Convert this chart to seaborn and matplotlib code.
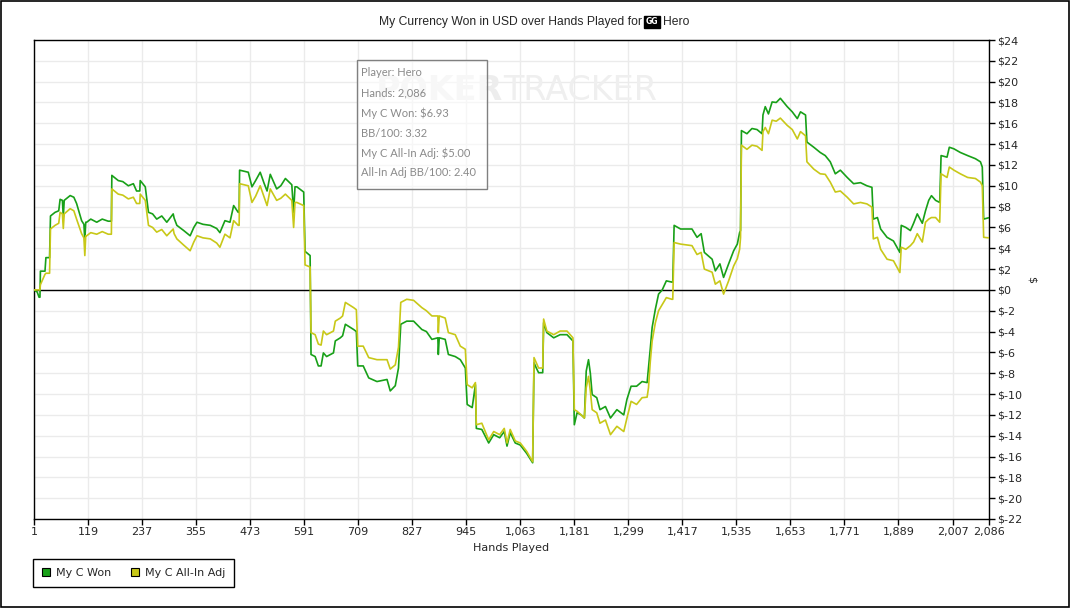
import matplotlib
matplotlib.use("Agg")
import matplotlib.pyplot as plt
from matplotlib.patches import Rectangle, Patch
from matplotlib.ticker import FuncFormatter
import numpy as np
import pandas as pd
import seaborn as sns

# values (hand number, $ won, $ all-in adjusted)
hands = [1, 8, 12, 14, 15, 25, 27, 35, 37, 47, 55, 58, 63, 65, 67, 80, 88, 94, 105, 110,
         112, 114, 116, 125, 138, 150, 163, 170, 171, 185, 195, 207, 218, 225, 232, 233, 244, 251, 260, 269,
         280, 291, 305, 307, 313, 328, 342, 350, 357, 370, 386, 400, 407, 418, 429, 437, 447, 449, 450, 469,
         477, 485, 495, 503, 510, 517, 531, 540, 550, 564, 568, 571, 575, 590, 593, 604, 606, 615, 622, 628,
         633, 640, 655, 659, 670, 675, 681, 699, 705, 708, 720, 732, 750, 772, 779, 790, 797, 802, 815, 830,
         848, 858, 870, 883, 884, 886, 899, 906, 921, 932, 943, 947, 958, 965, 967, 979, 994, 1005, 1018, 1028,
         1034, 1041, 1052, 1063, 1077, 1090, 1093, 1098, 1103, 1112, 1114, 1121, 1136, 1150, 1165, 1178, 1181, 1187, 1196, 1203,
         1207, 1212, 1216, 1220, 1230, 1237, 1249, 1260, 1274, 1289, 1296, 1305, 1317, 1329, 1340, 1343, 1347, 1351, 1358, 1365,
         1373, 1382, 1394, 1396, 1399, 1413, 1438, 1449, 1458, 1465, 1482, 1489, 1499, 1507, 1518, 1529, 1537, 1542, 1544, 1546,
         1558, 1569, 1580, 1591, 1593, 1598, 1605, 1613, 1622, 1631, 1646, 1657, 1668, 1675, 1686, 1689, 1704, 1718, 1729, 1740,
         1751, 1762, 1777, 1791, 1806, 1820, 1831, 1834, 1843, 1850, 1864, 1878, 1892, 1895, 1905, 1915, 1922, 1930, 1941, 1948,
         1955, 1961, 1970, 1979, 1982, 1995, 2000, 2010, 2024, 2040, 2057, 2068, 2072, 2075, 2086]

won = [0.0, -0.2, -0.7, -0.7, 1.8, 1.8, 3.1, 3.1, 7.1, 7.45, 7.6, 8.7, 8.6, 7.0, 8.6, 9.06, 8.9, 8.3, 6.65, 6.3,
       4.7, 6.5, 6.5, 6.8, 6.5, 6.8, 6.6, 6.6, 11.0, 10.5, 10.4, 10.0, 10.2, 9.5, 9.5, 10.5, 9.9, 7.45, 7.3, 6.8,
       7.1, 6.5, 7.3, 6.9, 6.2, 5.7, 5.2, 6.0, 6.5, 6.3, 6.2, 5.9, 5.5, 6.65, 6.5, 8.1, 7.45, 7.45, 11.5, 11.3,
       9.9, 10.5, 11.3, 10.3, 9.5, 11.1, 9.7, 10.0, 10.7, 10.1, 7.45, 9.9, 9.9, 9.4, 3.7, 3.3, -6.2, -6.4, -7.3, -7.3,
       -6.05, -6.4, -6.05, -4.9, -4.6, -4.4, -3.3, -3.8, -4.0, -7.3, -7.3, -8.45, -8.8, -8.6, -9.7, -9.2, -7.5, -3.3, -3.0, -3.0,
       -3.8, -4.0, -4.75, -4.6, -6.2, -4.6, -4.75, -6.2, -6.4, -6.7, -7.5, -11.0, -11.3, -9.1, -13.3, -13.4, -14.7, -13.9, -14.2, -13.6,
       -15.0, -13.7, -14.7, -14.9, -15.7, -16.6, -7.0, -7.5, -7.95, -7.95, -3.15, -4.1, -4.6, -4.3, -4.3, -4.9, -12.95, -11.8, -12.0, -12.3,
       -7.8, -6.7, -8.0, -10.05, -10.35, -11.5, -11.2, -12.3, -11.5, -12.0, -10.5, -9.25, -9.25, -8.8, -8.9, -7.5, -5.6, -3.6, -1.85, -0.4,
       0.0, 0.87, 0.75, 0.75, 6.2, 5.85, 5.85, 5.05, 5.4, 3.6, 2.95, 1.83, 2.5, 1.2, 2.5, 3.76, 4.4, 5.5, 5.7, 15.3,
       15.0, 15.5, 15.4, 15.0, 16.8, 17.6, 16.9, 18.05, 18.0, 18.4, 17.6, 17.1, 16.45, 17.1, 16.8, 14.2, 13.7, 13.2, 12.9, 12.3,
       11.15, 11.5, 10.8, 10.2, 10.3, 10.0, 9.85, 6.8, 6.95, 5.85, 5.05, 4.7, 3.6, 6.2, 6.0, 5.7, 6.4, 7.3, 6.4, 7.6,
       8.6, 9.05, 8.6, 8.4, 12.9, 12.75, 13.7, 13.55, 13.2, 12.9, 12.6, 12.3, 11.8, 6.8, 6.93]

allin_adj = [0.0, 0.0, 0.0, 0.0, 0.5, 1.5, 1.6, 1.6, 5.85, 6.2, 6.4, 7.45, 7.3, 5.9, 7.3, 7.8, 7.6, 6.8, 5.4, 5.0,
             3.3, 5.2, 5.2, 5.5, 5.35, 5.6, 5.35, 5.35, 9.7, 9.2, 9.1, 8.74, 8.9, 8.3, 8.3, 9.2, 8.6, 6.2, 6.0, 5.55,
             5.8, 5.2, 5.85, 5.4, 4.9, 4.3, 3.76, 4.6, 5.2, 5.0, 4.9, 4.5, 4.1, 5.35, 5.0, 6.65, 6.2, 6.2, 10.2, 10.0,
             8.4, 9.0, 10.0, 9.0, 8.1, 9.7, 8.6, 8.8, 9.2, 8.6, 6.0, 8.4, 8.4, 8.1, 2.4, 2.2, -4.1, -4.3, -5.2, -5.3,
             -3.95, -4.3, -3.95, -3.0, -2.7, -2.5, -1.2, -1.7, -1.9, -5.4, -5.4, -6.5, -6.7, -6.7, -7.6, -7.2, -5.5, -1.2, -0.9, -1.0,
             -1.7, -2.0, -2.5, -2.5, -4.1, -2.5, -2.7, -4.1, -4.3, -5.4, -5.7, -9.1, -9.4, -8.9, -12.95, -12.8, -14.4, -13.6, -13.9, -13.3,
             -14.7, -13.4, -14.5, -14.7, -15.5, -16.5, -6.5, -7.0, -7.5, -7.5, -2.8, -3.95, -4.3, -3.95, -3.95, -4.6, -11.5, -11.65, -12.0, -12.3,
             -9.4, -8.3, -9.7, -11.5, -11.8, -12.8, -12.5, -13.9, -13.1, -13.6, -12.3, -10.7, -11.0, -10.35, -10.3, -9.4, -6.85, -4.9, -3.15, -2.0,
             -1.4, -0.74, -0.9, -0.9, 4.55, 4.4, 4.25, 3.4, 3.6, 2.0, 1.7, 0.55, 0.87, -0.4, 0.87, 2.3, 3.0, 3.9, 5.0, 13.9,
             13.5, 13.9, 13.8, 13.4, 15.2, 15.6, 15.0, 16.3, 16.2, 16.5, 15.8, 15.4, 14.5, 15.2, 14.8, 12.3, 11.6, 11.15, 11.1, 10.35,
             9.4, 9.5, 8.9, 8.26, 8.4, 8.26, 7.95, 4.9, 5.05, 3.9, 2.95, 2.8, 1.67, 4.1, 3.9, 4.25, 4.6, 5.4, 4.6, 6.5,
             6.8, 6.95, 6.95, 6.5, 11.15, 10.8, 11.8, 11.5, 11.15, 10.8, 10.7, 10.35, 10.0, 5.05, 5.00]

series_names = ["My C Won", "My C All-In Adj"]
series_colors = ["#18a018", "#c8c818"]
x_ticks = [1, 119, 237, 355, 473, 591, 709, 827, 945, 1063, 1181, 1299, 1417, 1535, 1653, 1771, 1889, 2007, 2086]
tooltip_lines = ["Player: Hero", "Hands: 2,086", "My C Won: $6.93", "BB/100: 3.32",
                 "My C All-In Adj: $5.00", "All-In Adj BB/100: 2.40"]

df = pd.DataFrame({
    "Hands Played": hands * 2,
    "$": won + allin_adj,
    "series": [series_names[0]] * len(hands) + [series_names[1]] * len(hands),
})

sns.set_style("white")
plt.rcParams["font.family"] = ["DejaVu Sans"]

W, H = 1072, 609
fig = plt.figure(figsize=(W / 100, H / 100), dpi=100)


def px(x, y):
    return (x / W, 1 - y / H)


ax = fig.add_axes([34 / W, 1 - 519 / H, (988.7 - 34) / W, (519 - 40) / H])

# watermark + tooltip sit behind the data
fig.text(*px(503, 90), "POKER", fontsize=24, weight="bold", color="#ededed", ha="right", va="center", zorder=0)
fig.text(*px(503, 90), "TRACKER", fontsize=24, color="#efefef", ha="left", va="center", zorder=0)

sns.lineplot(data=df, x="Hands Played", y="$", hue="series", palette=series_colors,
             estimator=None, legend=False, linewidth=1.2, ax=ax, zorder=3)

ax.set_xlim(1, 2086)
ax.set_ylim(-22, 24)
ax.set_xticks(x_ticks)
ax.xaxis.set_major_formatter(FuncFormatter(lambda v, p: f"{int(v):,}"))
ax.set_yticks(np.arange(-22, 25, 2))
ax.yaxis.set_major_formatter(FuncFormatter(lambda v, p: f"${int(v)}"))
ax.yaxis.tick_right()
ax.yaxis.set_label_position("right")
ax.tick_params(axis="both", direction="out", length=4, width=1, color="black", labelsize=8, pad=2,
               bottom=True, right=True, left=False)
ax.grid(True, color="#ebebeb", linewidth=1)
ax.set_axisbelow(True)
ax.axhline(0, color="black", linewidth=1, zorder=2)
for s in ax.spines.values():
    s.set_color("black")
    s.set_linewidth(1)
ax.set_xlabel("Hands Played", fontsize=8, labelpad=4)
ax.set_ylabel("$", fontsize=8, rotation=-90, labelpad=10)
ax.patch.set_alpha(0)

# tooltip box
fig.patches.append(Rectangle(px(357, 189), 130 / W, 129 / H, transform=fig.transFigure,
                             facecolor="white", alpha=0.6, edgecolor="none", zorder=1))
fig.patches.append(Rectangle(px(357, 189), 130 / W, 129 / H, transform=fig.transFigure,
                             facecolor="none", edgecolor="#808080", linewidth=1, zorder=5))
for i, line in enumerate(tooltip_lines):
    fig.text(*px(361, 73 + 20 * i), line, fontsize=8, color="#8a8a8a", family="Lato",
             ha="left", va="center", zorder=6)

# title with the site badge
fig.text(*px(642, 22), "My Currency Won in USD over Hands Played for", fontsize=8.7,
         family="Liberation Sans", ha="right", va="center")
fig.text(*px(652, 22), "GG", fontsize=5.5, weight="bold", color="white", ha="center", va="center",
         bbox=dict(boxstyle="square,pad=0.25", facecolor="black", edgecolor="black"))
fig.text(*px(663, 22), "Hero", fontsize=8.7, family="Liberation Sans", ha="left", va="center")

# legend
handles = [Patch(facecolor=c, edgecolor="black", linewidth=0.8) for c in series_colors]
leg = fig.legend(handles, series_names, loc="upper left", bbox_to_anchor=px(33, 559), ncol=2,
                 fontsize=8, frameon=True, fancybox=False, edgecolor="black", framealpha=1,
                 handlelength=0.75, handleheight=0.75, handletextpad=0.5, columnspacing=1.8,
                 borderpad=0.8, borderaxespad=0)
leg.get_frame().set_linewidth(1)

# outer frame
fig.patches.append(Rectangle((0.5 / W, 2.5 / H), 1068.5 / W, 606 / H, transform=fig.transFigure,
                             fill=False, edgecolor="black", linewidth=1.2))

fig.savefig("out.png", dpi=100)
